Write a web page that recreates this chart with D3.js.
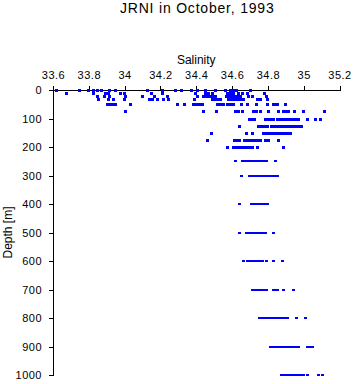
<!DOCTYPE html>
<html>
<head>
<meta charset="utf-8">
<script src="https://cdn.jsdelivr.net/npm/d3@7"></script>
<style>
  html, body { margin: 0; padding: 0; background: #fff; }
  svg { display: block; font-family: "Liberation Sans", Arial, Helvetica, sans-serif; }
</style>
</head>
<body>
<svg id="chart" width="353" height="384"></svg>
<script>
// ---- Data ----
const title = "JRNI in October, 1993";
const xLabel = "Salinity";
const yLabel = "Depth [m]";
const xTicks = [33.6, 33.8, 34, 34.2, 34.4, 34.6, 34.8, 35, 35.2];
const yTicks = [0, 100, 200, 300, 400, 500, 600, 700, 800, 900, 1000];

const depthLevels = [0, 10, 20, 30, 50, 75, 100, 125, 150, 175, 200, 250, 300, 400, 500, 600, 700, 800, 900, 1000];

const sal0 = [33.617, 33.747, 33.797, 33.825, 33.844, 33.867, 33.915, 33.946, 34.123, 34.207, 34.282, 34.313, 34.372, 34.405, 34.449, 34.505, 34.561, 34.589, 34.600, 34.611, 34.622, 34.701];
const sal10 = [33.673, 33.825, 33.890, 33.909, 33.974, 33.997, 34.146, 34.207, 34.393, 34.449, 34.466, 34.487, 34.572, 34.589, 34.606, 34.634, 34.654, 34.682, 34.779];
const sal20 = [33.847, 33.887, 33.915, 34.002, 34.096, 34.164, 34.235, 34.403, 34.438, 34.455, 34.472, 34.489, 34.505, 34.566, 34.583, 34.600, 34.617, 34.634, 34.645, 34.689, 34.710, 34.790];
const sal30 = [33.853, 33.905, 33.933, 33.997, 34.135, 34.142, 34.151, 34.183, 34.213, 34.244, 34.388, 34.487, 34.503, 34.520, 34.533, 34.578, 34.595, 34.611, 34.628, 34.645, 34.661, 34.738, 34.756, 34.797];
const sal50 = [33.900, 33.916, 33.930, 33.946, 34.030, 34.294, 34.334, 34.380, 34.396, 34.413, 34.431, 34.516, 34.533, 34.548, 34.572, 34.589, 34.606, 34.649, 34.682, 34.734, 34.797, 34.827, 34.840, 34.850, 34.896];
const sal75 = [34.004, 34.440, 34.509, 34.617, 34.634, 34.654, 34.716, 34.734, 34.756, 34.803, 34.859, 34.883, 34.899, 34.915, 34.946, 34.998, 35.114];
const sal100 = [34.697, 34.712, 34.725, 34.784, 34.801, 34.816, 34.827, 34.850, 34.864, 34.879, 34.896, 34.915, 34.924, 34.938, 34.952, 34.970, 35.021, 35.064, 35.092];
const sal125 = [34.641, 34.747, 34.762, 34.779, 34.797, 34.816, 34.827, 34.840, 34.857, 34.868, 34.878, 34.894, 34.908, 34.920, 34.924, 34.938, 34.952, 34.966, 34.984];
const sal150 = [34.481, 34.678, 34.710, 34.775, 34.790, 34.804, 34.818, 34.832, 34.846, 34.860, 34.868, 34.883, 34.896, 34.906, 34.916, 34.924];
const sal175 = [34.462, 34.611, 34.622, 34.641, 34.667, 34.681, 34.695, 34.709, 34.723, 34.741, 34.756, 34.784, 34.803, 34.859];
const sal200 = [34.570, 34.607, 34.622, 34.636, 34.650, 34.664, 34.678, 34.692, 34.710, 34.741, 34.883];
const sal250 = [34.617, 34.654, 34.673, 34.682, 34.698, 34.712, 34.726, 34.740, 34.754, 34.768, 34.782, 34.790, 34.840];
const sal300 = [34.650, 34.697, 34.712, 34.726, 34.740, 34.754, 34.768, 34.782, 34.796, 34.810, 34.824, 34.838, 34.850];
const sal400 = [34.641, 34.704, 34.720, 34.734, 34.748, 34.762, 34.776, 34.790, 34.797];
const sal500 = [34.641, 34.677, 34.692, 34.706, 34.720, 34.738, 34.747, 34.762, 34.773, 34.784, 34.831];
const sal600 = [34.663, 34.682, 34.698, 34.712, 34.728, 34.737, 34.751, 34.766, 34.790, 34.831, 34.881];
const sal700 = [34.713, 34.728, 34.742, 34.756, 34.770, 34.779, 34.790, 34.827, 34.840, 34.850, 34.887, 34.939];
const sal800 = [34.753, 34.768, 34.784, 34.801, 34.815, 34.827, 34.835, 34.849, 34.863, 34.877, 34.891, 34.896, 34.909, 34.958, 35.008];
const sal900 = [34.812, 34.826, 34.840, 34.854, 34.868, 34.882, 34.896, 34.910, 34.924, 34.938, 34.952, 34.967, 35.021, 35.036, 35.045];
const sal1000 = [34.874, 34.888, 34.902, 34.916, 34.930, 34.944, 34.958, 34.972, 34.986, 34.998, 35.017, 35.082, 35.101];

const salinityByLevel = [sal0, sal10, sal20, sal30, sal50, sal75, sal100, sal125, sal150, sal175, sal200, sal250, sal300, sal400, sal500, sal600, sal700, sal800, sal900, sal1000];

const points = [];
depthLevels.forEach((d, i) => salinityByLevel[i].forEach(s => points.push({ s, d })));

// ---- Chart ----
const svg = d3.select("#chart");
const mLeft = 53, mRight = 339.5, mTop = 90, mBottom = 375;

const x = d3.scaleLinear().domain([33.6, 35.2]).range([mLeft, mRight]);
const y = d3.scaleLinear().domain([0, 1000]).range([mTop, mBottom]);

svg.append("text")
  .attr("x", (mLeft + mRight) / 2 + 1)
  .attr("y", 13)
  .attr("text-anchor", "middle")
  .attr("font-size", 14)
  .attr("letter-spacing", 0.8)
  .attr("fill", "#000")
  .text(title);

const xAxis = svg.append("g")
  .attr("transform", `translate(0,${mTop})`)
  .call(d3.axisTop(x).tickValues(xTicks).tickFormat(d3.format("")).tickSize(4).tickSizeOuter(4).tickPadding(7));

const yAxis = svg.append("g")
  .attr("transform", `translate(${mLeft},0)`)
  .call(d3.axisLeft(y).tickValues(yTicks).tickFormat(d3.format("")).tickSize(4).tickSizeOuter(4).tickPadding(7));

[xAxis, yAxis].forEach(g => {
  g.selectAll("text")
    .attr("font-size", 11)
    .attr("letter-spacing", 0.5)
    .attr("font-family", "'Liberation Sans', Arial, sans-serif")
    .attr("fill", "#000");
  g.selectAll("path, line").attr("stroke", "#000").attr("stroke-width", 1).attr("shape-rendering", "crispEdges");
});

svg.append("text")
  .attr("x", (mLeft + mRight) / 2)
  .attr("y", 64)
  .attr("text-anchor", "middle")
  .attr("font-size", 12)
  .attr("fill", "#000")
  .text(xLabel);

svg.append("text")
  .attr("transform", `translate(12,${(mTop + mBottom) / 2}) rotate(-90)`)
  .attr("text-anchor", "middle")
  .attr("font-size", 12)
  .attr("fill", "#000")
  .text(yLabel);

svg.append("g")
  .selectAll("rect")
  .data(points)
  .join("rect")
  .attr("x", p => Math.round(x(p.s)) - 1.5)
  .attr("y", p => Math.round(y(p.d)) - 1.5)
  .attr("width", 3)
  .attr("height", p => p.d > 200 ? 2 : 3)
  .attr("fill", "#0000ff")
  .attr("shape-rendering", "crispEdges");
</script>
</body>
</html>
